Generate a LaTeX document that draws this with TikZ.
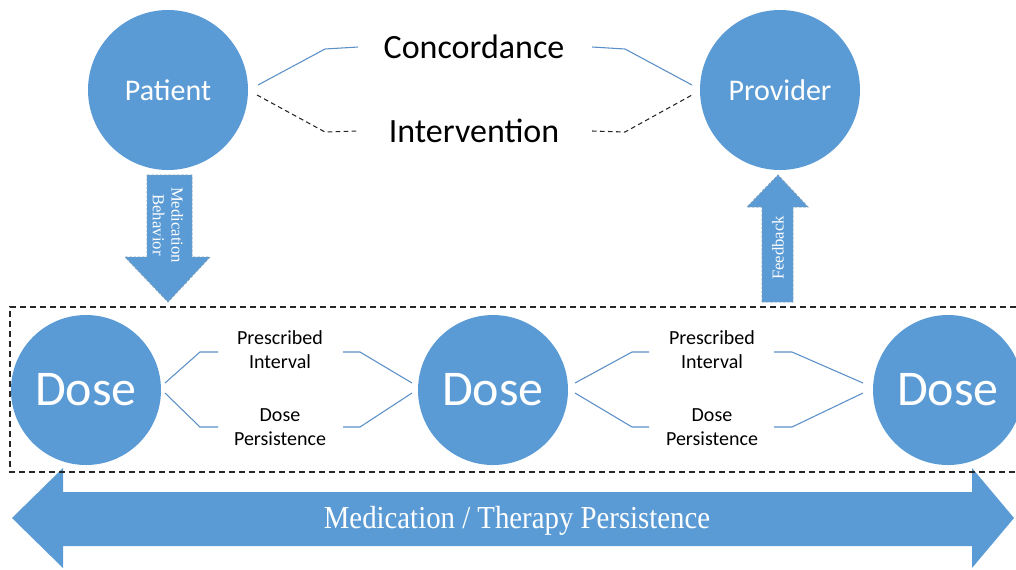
\documentclass[tikz,border=0pt]{standalone}
\usepackage{fontspec}
\setmainfont{Carlito}
\newfontfamily\serifx{Liberation Serif}
\usetikzlibrary{calc}
\definecolor{fillblue}{HTML}{5B9BD5}
\definecolor{lineblue}{HTML}{5B8FC7}
\definecolor{edgeblue}{HTML}{41719C}
\begin{document}
\begin{tikzpicture}[x=0.75pt,y=-0.75pt,
 bigcirc/.style={circle,fill=fillblue,inner sep=0pt,minimum size=120pt,text=white,font=\fontsize{22.5}{26}\selectfont},
 dosecirc/.style={circle,fill=fillblue,inner sep=0pt,minimum size=112.5pt,text=white,font=\fontsize{37.5}{40}\selectfont},
 link/.style={draw=lineblue,line width=0.8pt},
 dlink/.style={draw=black!85,line width=0.8pt,dash pattern=on 3.5pt off 2.5pt},
 lbl/.style={font=\fontsize{25.5}{30}\selectfont,text=black,inner sep=0pt},
 smalllbl/.style={font=\fontsize{15}{18}\selectfont,align=center,text=black,inner sep=0pt},
 fatarrow/.style={fill=fillblue,draw=edgeblue!70,line width=0.6pt,dash pattern=on 2pt off 1.2pt},
 arrowtext/.style={font=\serifx\fontsize{12.5}{14}\selectfont,text=white,align=center,inner sep=0pt},
]
\useasboundingbox (0,0) rectangle (1016,569);
% top circles
\node[bigcirc] (patient) at (168,90) {Patient};
\node[bigcirc] (provider) at (780,90) {Provider};
\node[lbl] (conc) at (474,47) {Concordance};
\node[lbl] (interv) at (474,131) {Intervention};
\coordinate (pc1) at (258,85);
\coordinate (pc2) at (257,95);
\coordinate (vc1) at (692,85);
\coordinate (vc2) at (692,95);
\draw[link] (pc1) -- (325,49) -- (conc.west -| 358,0);
\draw[link] (conc.east -| 592,0) -- (625,49) -- (vc1);
\draw[dlink] (pc2) -- (325,132) -- (interv.west -| 358,0);
\draw[dlink] (interv.east -| 592,0) -- (625,132) -- (vc2);
% vertical arrows
\draw[fatarrow] (147,175) -- (192,175) -- (192,257) -- (210,257) -- (168,302) -- (125,257) -- (147,257) -- cycle;
\node[arrowtext,rotate=-90] (medbeh) at (168,225) {Medication\\Behavior};
\draw[fatarrow] (762,302) -- (762,207) -- (747,207) -- (778,175) -- (808,207) -- (793,207) -- (793,302) -- cycle;
\node[arrowtext,rotate=90] (feedback) at (778,248) {Feedback};
% big double arrow
\fill[fillblue] (12,518) -- (63,468) -- (63,492) -- (972,492) -- (972,468) -- (1014,518) -- (972,568) -- (972,546) -- (63,546) -- (63,568) -- cycle;
\node[font=\serifx\fontsize{24}{28}\selectfont,text=white,inner sep=0pt,xscale=0.9,anchor=base] (persist) at (517,528) {Medication / Therapy Persistence};
% dashed box
\draw[black!85,line width=0.8pt,dash pattern=on 4.5pt off 3pt] (1016,307) -- (10,307) -- (10,472) -- (1016,472);
% doses
\node[dosecirc] (dose1) at (86,390) {Dose};
\node[dosecirc] (dose2) at (493,390) {Dose};
\node[dosecirc] (dose3) at (948,390) {Dose};
\node[smalllbl] (pi1) at (280,350) {Prescribed\\Interval};
\node[smalllbl] (dp1) at (280,427) {Dose\\Persistence};
\node[smalllbl] (pi2) at (712,350) {Prescribed\\Interval};
\node[smalllbl] (dp2) at (712,427) {Dose\\Persistence};
\draw[link] (165,383) -- (200,352) -- (218,352);
\draw[link] (343,352) -- (360,352) -- (412,383);
\draw[link] (165,393) -- (200,427) -- (218,427);
\draw[link] (343,427) -- (360,427) -- (412,393);
\draw[link] (575,383) -- (632,352) -- (649,352);
\draw[link] (774,352) -- (792,352) -- (863,383);
\draw[link] (575,393) -- (632,427) -- (649,427);
\draw[link] (774,427) -- (792,427) -- (863,393);
\end{tikzpicture}
\end{document}
